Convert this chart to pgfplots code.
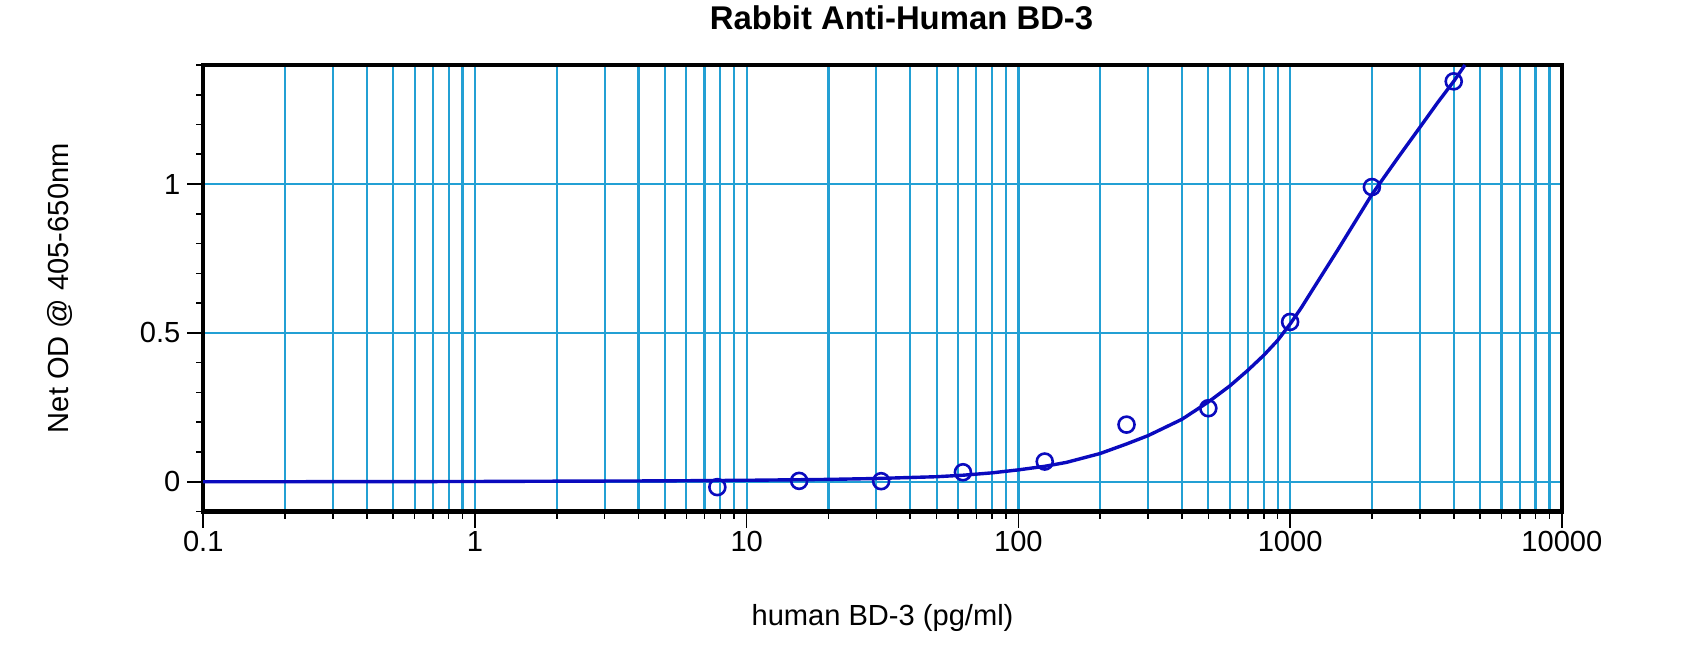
\documentclass[border=0pt]{standalone}
\usepackage{pgfplots}
\pgfplotsset{compat=1.18}
\usepackage{fontspec}
\setmainfont{Liberation Sans}

\definecolor{gridcyan}{RGB}{35,160,212}
\definecolor{fitblue}{RGB}{10,10,190}

% standard curve readings (pg/ml, net OD)
\pgfplotstableread{
x y
7.8 -0.018
15.6 0.003
31.25 0.002
62.5 0.032
125 0.068
250 0.192
500 0.247
1000 0.537
2000 0.990
4000 1.345
}\measured

% fitted curve
\pgfplotstableread{
x y
0.1 0.000
0.5 0.0005
1 0.001
2 0.002
5 0.003
10 0.005
20 0.008
30 0.011
50 0.017
62.5 0.022
80 0.030
100 0.040
125 0.052
150 0.065
200 0.095
250 0.127
300 0.155
400 0.210
500 0.268
600 0.322
700 0.375
800 0.425
900 0.475
1000 0.530
1100 0.585
1200 0.640
1500 0.780
2000 0.965
2500 1.090
3000 1.190
3500 1.275
4000 1.345
4400 1.400
}\fitted

\begin{document}
\begin{tikzpicture}
\useasboundingbox (-101.65bp,-74.65bp) rectangle (748.6bp,255.85bp);
\begin{axis}[
  scale only axis,
  width=679.5bp, height=223.35bp,
  xmode=log,
  xmin=0.1, xmax=10000,
  ymin=-0.1, ymax=1.4,
  xtick={0.1,1,10,100,1000,10000},
  xticklabels={0.1,1,10,100,1000,10000},
  minor xtick={0.2,0.3,0.4,0.5,0.6,0.7,0.8,0.9,
    2,3,4,5,6,7,8,9,20,30,40,50,60,70,80,90,
    200,300,400,500,600,700,800,900,2000,3000,4000,5000,6000,7000,8000,9000},
  ytick={0,0.5,1},
  yticklabels={0,0.5,1},
  minor ytick={-0.1,0.1,0.2,0.3,0.4,0.6,0.7,0.8,0.9,1.1,1.2,1.3,1.4},
  tick pos=left,
  tick align=outside,
  major tick length=8bp,
  minor tick length=3.5bp,
  every tick/.style={black, line width=0.8bp},
  xmajorgrids=true, xminorgrids=true, ymajorgrids=true, yminorgrids=false,
  grid style={gridcyan, line width=1.1bp},
  minor grid style={gridcyan, line width=1.1bp},
  axis line style={black, line width=2.2bp},
  ticklabel style={font=\fontsize{14.6}{17}\selectfont},
  xticklabel style={anchor=base, yshift=-12bp},
  yticklabel style={anchor=east},
  title={Rabbit Anti-Human BD-3},
  title style={font=\fontsize{16.5}{20}\selectfont\bfseries,
    at={([xshift=9.5bp,yshift=17.75bp]axis description cs:0.5,1)}, anchor=center},
  xlabel={human BD-3 (pg/ml)},
  xlabel style={font=\fontsize{14.6}{17}\selectfont,
    at={([yshift=-57bp]axis description cs:0.5,0)}, anchor=base},
  ylabel={Net OD @ 405-650nm},
  ylabel style={font=\fontsize{14.6}{17}\selectfont,
    at={([xshift=-71.5bp]axis description cs:0,0.5)}, anchor=center},
]
\addplot[fitblue, line width=1.7bp, no marks] table {\fitted};
\addplot[fitblue, only marks, mark=o, mark size=4bp,
  mark options={line width=1.3bp}] table {\measured};
\end{axis}
\end{tikzpicture}
\end{document}
